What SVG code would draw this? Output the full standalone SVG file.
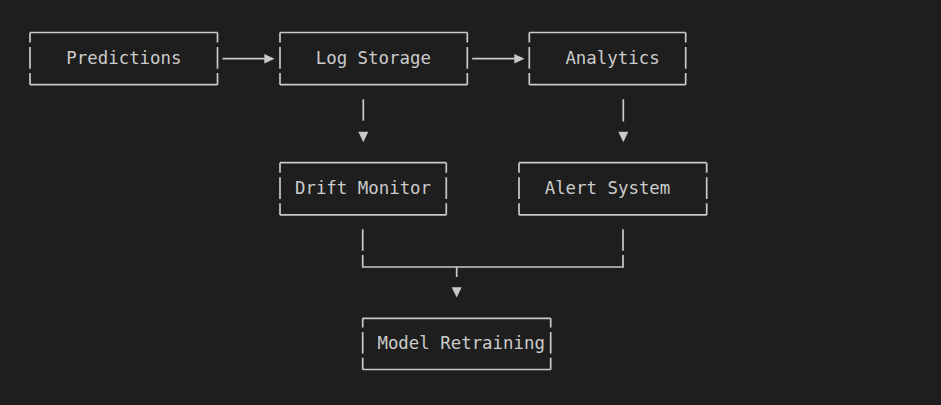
<svg xmlns="http://www.w3.org/2000/svg" width="941" height="405" viewBox="0 0 941 405">
<style>
.b{fill:none;stroke:#c9c9c9;stroke-width:1.7}
.c{fill:none;stroke:#c9c9c9;stroke-width:1.7}
.h{fill:#c9c9c9;stroke:none}
.t{font-family:"DejaVu Sans Mono","Liberation Mono",monospace;font-size:17.4px;fill:#cccccc;text-anchor:middle}
</style>
<rect width="941" height="405" fill="#1e1e1e"/>
<g id="predictions">
<path class="b" d="M30,32.5H217.5M30,84.7H217.5M30,32.5V42.5M30,47.1V68.7M30,73.1V84.7M217.5,32.5V42.5M217.5,47.1V68.7M217.5,73.1V84.7"/>
<text class="t" x="123.9" y="64">Predictions</text>
</g>
<g id="log-storage">
<path class="b" d="M280,32.5H467.3M280,84.7H467.3M280,32.5V42.5M280,47.1V68.7M280,73.1V84.7M467.3,32.5V42.5M467.3,47.1V68.7M467.3,73.1V84.7"/>
<text class="t" x="373.3" y="64">Log Storage</text>
</g>
<g id="analytics">
<path class="b" d="M529.3,32.5H685.7M529.3,84.7H685.7M529.3,32.5V42.5M529.3,47.1V68.7M529.3,73.1V84.7M685.7,32.5V42.5M685.7,47.1V68.7M685.7,73.1V84.7"/>
<text class="t" x="612.5" y="64">Analytics</text>
</g>
<g id="drift-monitor">
<path class="b" d="M280,162.7H446.3M280,214.9H446.3M280,162.7V172.7M280,177.3V198.9M280,203.3V214.9M446.3,162.7V172.7M446.3,177.3V198.9M446.3,203.3V214.9"/>
<text class="t" x="363" y="194.2">Drift Monitor</text>
</g>
<g id="alert-system">
<path class="b" d="M519,162.7H706.7M519,214.9H706.7M519,162.7V172.7M519,177.3V198.9M519,203.3V214.9M706.7,162.7V172.7M706.7,177.3V198.9M706.7,203.3V214.9"/>
<text class="t" x="607.5" y="194.2">Alert System</text>
</g>
<g id="model-retraining">
<path class="b" d="M362.7,318.3H550.7M362.7,369.5H550.7M362.7,318.3V327.6M362.7,332V353.4M362.7,357.8V369.5M550.7,318.3V327.6M550.7,332V353.4M550.7,357.8V369.5"/>
<text class="t" x="461.2" y="349">Model Retraining</text>
</g>
<g id="connectors">
<path class="c" d="M222.5,58.7H265"/>
<polygon class="h" points="264.3,54 274.5,58.7 264.3,63.4"/>
<path class="c" d="M472.2,58.7H515"/>
<polygon class="h" points="514.3,54 524.5,58.7 514.3,63.4"/>
<path class="c" d="M363.3,99.3V120.7"/>
<polygon class="h" points="358.3,131.7 368.3,131.7 363.3,142.3"/>
<path class="c" d="M623.3,99.3V121.5"/>
<polygon class="h" points="618.3,131.7 628.3,131.7 623.3,142.3"/>
<path class="c" d="M362.7,229.3V250.7M362.7,255V267H623V255M623,250.7V229.3M456.7,267V277"/>
<polygon class="h" points="451.7,287.3 461.7,287.3 456.7,297.5"/>
</g>
</svg>
